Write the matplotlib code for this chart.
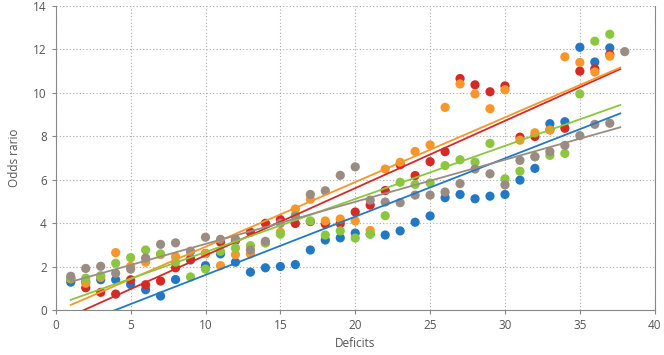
import numpy as np
import matplotlib.pyplot as plt

# deficits count (x) and odds ratios per series
deficits = list(range(1, 38))

blue = [1.28, 1.30, 1.39, 1.39, 1.17, 0.93, 0.64, 1.40, 2.30, 2.04,
        2.58, 2.20, 1.74, 1.94, 2.00, 2.09, 2.76, 3.22, 3.32, 3.54,
        3.50, 3.45, 3.64, 4.04, 4.33, 5.17, 5.32, 5.12, 5.24, 5.32,
        5.98, 6.52, 8.58, 8.67, 12.10, 11.42, 12.07]
red = [1.45, 1.02, 0.81, 0.73, 1.39, 1.16, 1.33, 1.94, 2.35, 2.60,
       3.12, 3.20, 3.58, 3.99, 4.16, 3.98, 4.07, 3.96, 3.98, 4.51,
       4.83, 5.50, 6.69, 6.19, 6.83, 7.29, 10.66, 10.37, 10.05, 10.32,
       7.96, 7.99, 8.30, 8.37, 11.00, 11.11, 11.77]
orange = [1.43, 1.23, 1.50, 2.64, 2.01, 2.20, 2.55, 2.45, 2.70, 2.60,
          2.04, 2.55, 2.58, 3.10, 3.58, 4.65, 5.10, 4.10, 4.19, 4.10,
          3.66, 6.49, 6.80, 7.30, 7.60, 9.33, 10.41, 9.95, 9.27, 10.14,
          7.82, 8.16, 8.29, 11.66, 11.40, 10.96, 11.69]
green = [1.45, 1.46, 1.58, 2.15, 2.41, 2.76, 2.58, 2.20, 1.52, 1.88,
         2.70, 2.85, 2.96, 3.08, 3.49, 4.36, 4.10, 3.45, 3.64, 3.31,
         3.49, 4.34, 5.88, 5.78, 5.85, 6.65, 6.92, 6.81, 7.67, 6.04,
         6.39, 7.06, 7.12, 7.21, 9.95, 12.38, 12.70]
gray = [1.55, 1.91, 2.01, 1.69, 1.88, 2.39, 3.02, 3.09, 2.70, 3.35,
        3.25, 3.26, 2.76, 3.16, 3.99, 4.31, 5.32, 5.49, 6.20, 6.59,
        5.06, 4.97, 4.94, 5.29, 5.29, 5.43, 5.82, 6.49, 6.27, 5.76,
        6.89, 7.06, 7.29, 7.58, 8.03, 8.55, 8.60]
gray_last = (38, 11.90)

# trend lines as drawn in the reference (slope, intercept)
trend_slope = [0.2686, 0.310, 0.298, 0.2446, 0.194]
trend_icept = [-1.074, -0.589, -0.07, 0.22, 1.10]
trend_span = [1, 37.7]

colors = ["#2378c6", "#d42a26", "#f8962c", "#8cc63f", "#9a8c82"]
series = [blue, red, orange, green, gray]

plt.rcParams['font.family'] = ['Open Sans', 'DejaVu Sans']

fig, ax = plt.subplots(figsize=(6.64, 3.55), dpi=100)
fig.subplots_adjust(left=0.084, right=0.986, top=0.983, bottom=0.127)

x = np.array(deficits)
x_line = np.array(trend_span)
for vals, col in zip(series, colors):
    ax.scatter(x, vals, s=44, color=col, edgecolors="none", zorder=3)
for k, b, col in zip(trend_slope, trend_icept, colors):
    ax.plot(x_line, k * x_line + b, color=col, lw=1.3, zorder=4)
ax.scatter([gray_last[0]], [gray_last[1]], s=44, color=colors[4],
           edgecolors="none", zorder=3)

ax.set_xlim(0, 40)
ax.set_ylim(0, 14)
ax.set_xticks(range(0, 41, 5))
ax.set_yticks(range(0, 15, 2))
ax.grid(True, linestyle=(0, (1, 2)), color="#aaaaaa", lw=0.8)
ax.set_axisbelow(True)

for s in ["left", "bottom", "right"]:
    ax.spines[s].set_color("#888888")
ax.spines["top"].set_visible(False)
ax.tick_params(labelsize=8.5, length=3, width=0.8, colors="#888888",
               labelcolor="#555555")

ax.set_xlabel("Deficits", fontsize=8.5, color="#555555")
ax.set_ylabel("Odds rario", fontsize=8.5, color="#555555", labelpad=9)

fig.savefig("out.png", dpi=100)
